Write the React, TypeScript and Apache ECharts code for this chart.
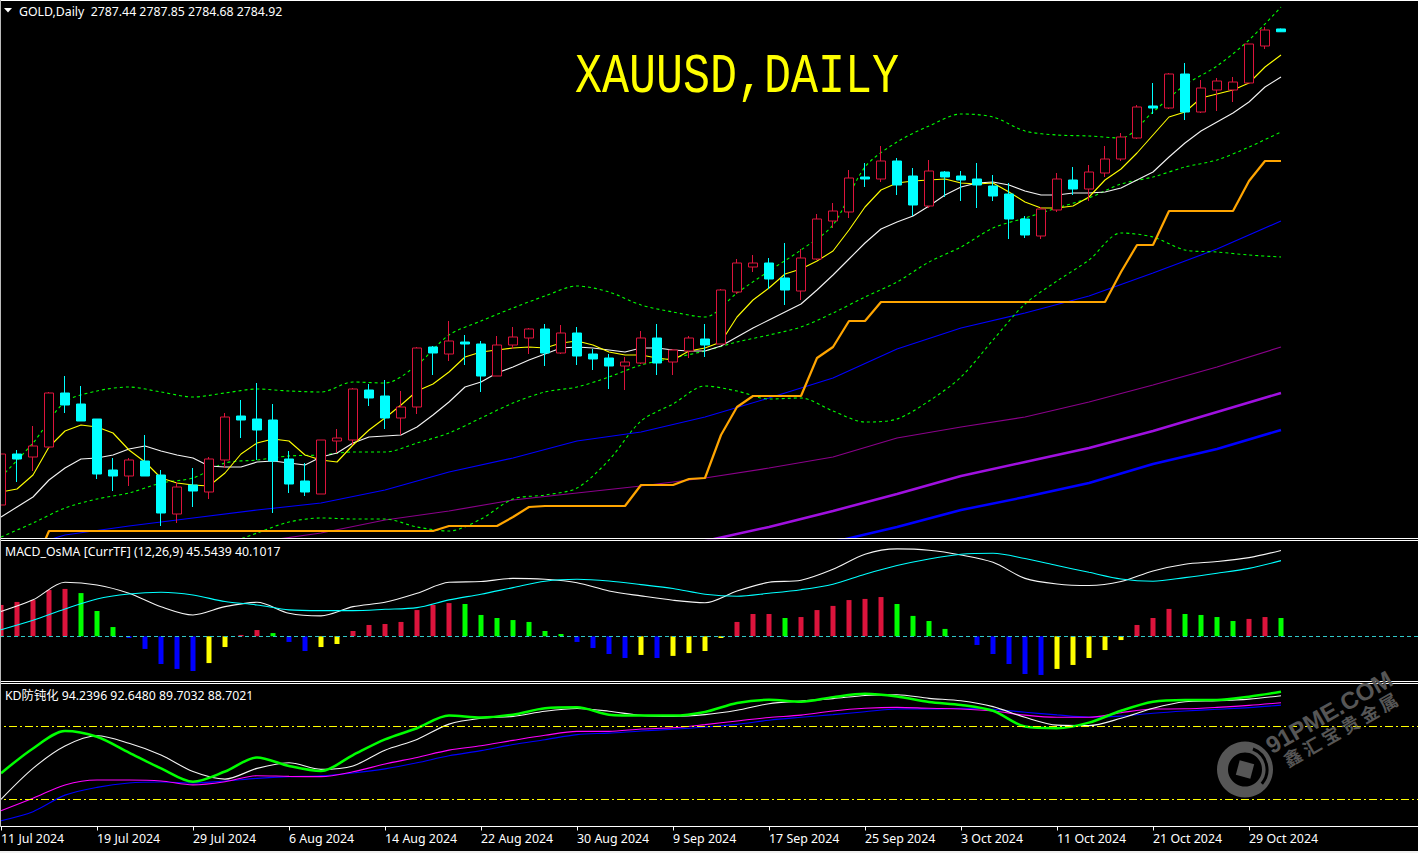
import React, { useEffect, useRef } from "react";
import * as echarts from "echarts";

const julDays = [11, 12, 15, 16, 17, 18, 19, 22, 23, 24, 25, 26, 29, 30, 31];
const augDays = [1, 2, 5, 6, 7, 8, 9, 12, 13, 14, 15, 16, 19, 20, 21, 22, 23, 26, 27, 28, 29, 30];
const sepDays = [2, 3, 4, 5, 6, 9, 10, 11, 12, 13, 16, 17, 18, 19, 20, 23, 24, 25, 26, 27, 30];
const octDays = [1, 2, 3, 4, 7, 8, 9, 10, 11, 14, 15, 16, 17, 18, 21, 22, 23, 24, 25, 28, 29, 30, 31];
const tradingDates = [
  ...julDays.map((d) => `${d} Jul 2024`),
  ...augDays.map((d) => `${d} Aug 2024`),
  ...sepDays.map((d) => `${d} Sep 2024`),
  ...octDays.map((d) => `${d} Oct 2024`),
];
const blankSlots = 9;

const opens = [2359.0,2404.9,2402.2,2411.2,2459.8,2449.9,2436.4,2390.5,2385.1,2398.6,2386.0,2350.9,2377.0,2370.7,2399.5,2439.1,2436.4,2435.5,2400.4,2380.6,2368.9,2416.6,2417.5,2462.5,2457.1,2437.3,2447.2,2501.2,2494.9,2505.7,2503.9,2475.1,2503.0,2509.3,2517.4,2495.8,2513.8,2494.9,2491.3,2484.1,2486.8,2509.3,2487.7,2497.6,2508.4,2503.9,2550.7,2573.2,2576.8,2563.3,2551.6,2580.4,2614.6,2622.7,2654.2,2652.4,2668.6,2655.1,2628.1,2658.7,2655.1,2652.4,2646.1,2638.9,2616.4,2601.1,2624.5,2651.5,2643.4,2657.8,2670.4,2689.3,2718.1,2716.3,2746.9,2712.7,2732.5,2732.5,2738.8,2772.1,2787.44];
const highs = [2414.8,2408.5,2430.1,2460.7,2475.1,2466.1,2436.4,2401.3,2401.3,2422.0,2390.5,2379.7,2392.3,2402.2,2441.8,2453.5,2468.8,2449.9,2407.6,2396.8,2417.5,2427.4,2464.3,2467.9,2471.5,2461.6,2501.2,2502.1,2524.6,2512.0,2506.6,2511.1,2519.2,2518.3,2521.9,2521.0,2519.2,2499.4,2494.9,2492.2,2515.6,2521.9,2499.4,2511.1,2521.9,2553.4,2580.4,2584.0,2581.3,2594.8,2589.4,2620.9,2630.8,2660.5,2666.8,2682.1,2671.3,2662.3,2669.5,2659.6,2659.6,2666.8,2656.0,2648.8,2619.1,2627.2,2657.8,2663.2,2665.0,2682.1,2693.8,2719.0,2738.8,2747.8,2756.8,2741.5,2743.3,2744.2,2773.9,2789.2,2787.85];
const lows = [2359.0,2379.7,2389.6,2410.3,2441.8,2434.6,2382.4,2371.6,2376.1,2385.1,2340.1,2342.8,2357.2,2364.4,2392.3,2419.3,2399.5,2351.8,2369.8,2367.1,2368.9,2405.8,2413.0,2448.1,2427.4,2422.0,2440.9,2476.0,2488.6,2485.0,2460.7,2475.1,2499.4,2494.9,2484.1,2494.9,2485.0,2480.5,2463.4,2462.5,2485.9,2476.0,2476.0,2491.3,2492.2,2503.9,2548.9,2568.7,2553.4,2539.0,2543.5,2579.5,2608.3,2617.3,2645.2,2649.7,2638.0,2619.1,2626.3,2636.2,2632.6,2626.3,2632.6,2598.4,2599.3,2598.4,2622.7,2638.0,2632.6,2654.2,2668.6,2688.4,2710.9,2715.4,2705.5,2711.8,2713.6,2721.7,2738.8,2769.4,2784.68];
const closes = [2404.9,2400.4,2412.1,2459.8,2449.0,2434.6,2386.9,2385.1,2399.5,2385.1,2351.8,2375.2,2371.6,2400.4,2438.2,2435.5,2426.5,2398.6,2377.9,2370.7,2417.5,2419.3,2463.4,2455.3,2437.3,2447.2,2500.3,2495.8,2506.6,2503.9,2475.1,2503.0,2510.2,2517.4,2495.8,2513.8,2493.1,2490.4,2484.1,2487.7,2509.3,2486.8,2498.5,2509.3,2503.0,2552.5,2576.8,2576.8,2562.4,2552.5,2581.3,2616.4,2623.6,2653.3,2652.4,2668.6,2647.0,2629.0,2659.6,2654.2,2651.5,2647.0,2637.1,2616.4,2602.0,2625.4,2652.4,2643.4,2658.7,2670.4,2690.2,2717.2,2716.3,2746.9,2712.7,2734.3,2740.6,2739.7,2773.9,2786.5,2784.92];

const fastAverage = [2370.7,2373.4,2386.0,2411.2,2425.6,2431.0,2429.2,2423.8,2408.5,2397.7,2383.3,2378.8,2377.0,2376.1,2387.8,2404.9,2414.8,2418.4,2416.6,2404.0,2399.5,2397.7,2413.0,2426.5,2437.3,2449.0,2461.6,2467.9,2478.7,2492.2,2496.7,2498.5,2500.3,2501.2,2500.3,2504.8,2506.6,2503.0,2496.7,2494.0,2494.0,2491.3,2489.5,2497.6,2500.3,2505.7,2528.2,2543.5,2554.3,2566.9,2571.4,2578.6,2587.6,2606.5,2627.2,2642.5,2648.8,2650.6,2651.5,2652.4,2648.8,2647.9,2648.8,2640.7,2631.7,2626.3,2626.3,2628.1,2636.2,2651.5,2661.4,2675.8,2692.0,2708.2,2712.7,2725.3,2728.9,2732.5,2738.8,2753.2,2764.0];
const midAverage = [2348.2,2357.2,2366.2,2381.5,2392.3,2400.4,2401.3,2404.0,2409.4,2412.1,2407.6,2404.0,2401.3,2394.1,2393.2,2393.2,2397.7,2398.6,2396.8,2395.0,2402.2,2405.8,2414.8,2420.2,2421.1,2422.0,2429.2,2440.0,2451.7,2465.2,2469.7,2477.8,2483.2,2489.5,2494.9,2500.3,2501.2,2500.3,2498.5,2496.7,2500.3,2500.3,2498.5,2497.6,2497.6,2502.1,2510.2,2518.3,2525.5,2532.7,2539.9,2552.5,2566.0,2580.4,2594.8,2607.4,2613.7,2619.1,2628.1,2638.0,2645.2,2648.8,2649.7,2647.0,2641.6,2638.0,2638.0,2639.8,2639.8,2640.7,2644.3,2651.5,2658.7,2672.2,2684.8,2695.6,2703.7,2711.8,2721.7,2735.2,2744.2];
// sampled every second bar
const bandUpper = [2384.2,2414.8,2451.7,2461.6,2465.2,2460.7,2456.2,2459.8,2463.4,2461.6,2460.7,2469.7,2468.8,2485.0,2512.0,2524.6,2536.3,2547.1,2556.1,2550.7,2539.0,2532.7,2528.2,2549.8,2569.6,2588.5,2611.0,2663.2,2685.7,2700.1,2710.9,2708.2,2695.6,2692.0,2691.1,2689.3,2712.7,2737.0,2754.1,2777.5,2807.2];
const bandInner = [2330.2,2342.8,2356.3,2364.4,2369.8,2378.8,2383.3,2396.8,2399.5,2403.1,2404.0,2406.7,2406.7,2414.8,2423.8,2437.3,2450.8,2460.7,2465.2,2474.2,2485.0,2491.3,2497.6,2505.7,2512.0,2519.2,2531.8,2546.2,2559.7,2577.7,2591.2,2608.3,2617.3,2626.3,2635.3,2647.9,2654.2,2663.2,2669.5,2681.2,2694.7];
// from bar 14, every second bar
const bandLower = [2323.0,2333.8,2343.7,2347.3,2346.4,2346.4,2339.2,2335.6,2346.4,2364.4,2368.0,2374.3,2399.5,2434.6,2449.9,2466.1,2461.6,2454.4,2455.3,2443.6,2433.7,2436.4,2452.6,2474.2,2507.5,2539.9,2560.6,2579.5,2603.8,2600.2,2588.5,2586.7,2584.0,2582.2];
const stopLine = [2302.3,2302.3,2302.3,2335.6,2335.6,2335.6,2335.6,2335.6,2335.6,2335.6,2335.6,2335.6,2335.6,2335.6,2335.6,2335.6,2335.6,2335.6,2335.6,2335.6,2335.6,2335.6,2335.6,2335.6,2335.6,2335.6,2335.6,2335.6,2340.1,2340.1,2340.1,2340.1,2348.2,2357.2,2358.1,2358.1,2358.1,2358.1,2358.1,2358.1,2377.0,2377.0,2377.0,2382.4,2383.3,2422.0,2447.2,2457.1,2457.1,2457.1,2457.1,2491.3,2501.2,2524.6,2524.6,2541.7,2541.7,2541.7,2541.7,2541.7,2541.7,2541.7,2541.7,2541.7,2541.7,2541.7,2541.7,2541.7,2541.7,2541.7,2568.7,2593.0,2593.0,2623.6,2623.6,2623.6,2623.6,2623.6,2650.6,2668.6,2668.6];
// every fourth bar
const slowAverage = [2314.9,2332.0,2340.1,2347.3,2354.5,2360.8,2372.5,2388.7,2401.3,2416.6,2424.7,2438.2,2455.3,2473.3,2499.4,2518.3,2531.8,2547.1,2567.8,2589.4,2614.6];
// from bar 16, every fourth bar
const slowerAverage = [2325.7,2333.8,2345.5,2353.6,2363.5,2369.8,2376.1,2383.3,2392.3,2402.2,2419.3,2429.2,2438.2,2451.7,2467.0,2483.2,2501.2];
// from bar 44, every fourth bar
const violetAverage = [2326.6,2339.2,2353.6,2368.9,2385.1,2397.7,2410.3,2425.6,2442.7,2459.8];
// from bar 52, every fourth bar
const blueAverage = [2325.7,2339.2,2354.5,2366.2,2378.8,2395.9,2409.4,2426.5];

const osmaValues = [16.6,18.2,19.2,24.5,25.1,22.9,13.4,4.9,-0.9,-6.7,-14.7,-17.3,-18.4,-14.2,-5.7,0.7,3.3,1.7,-3.0,-7.8,-5.7,-4.1,2.8,6.0,6.5,7.6,13.9,16.6,17.6,17.1,11.3,9.7,8.6,7.6,2.8,1.2,-3.0,-6.2,-9.4,-11.5,-9.9,-11.5,-10.4,-8.9,-7.8,-0.9,7.6,11.8,11.8,9.7,10.2,13.9,16.1,19.2,19.8,20.8,17.1,10.8,8.1,3.9,-0.2,-4.6,-9.4,-14.7,-20.0,-20.5,-17.3,-15.2,-11.5,-7.3,-2.0,6.0,9.7,14.5,11.8,11.3,10.2,8.1,9.2,10.2,9.7];
const osmaKinds = "RRRRR GGG BBBBB YY RR G BB YY RRRRRRR GGGGGGG BBBB Y B YYYY RRR G RRRRRR GGGG BBBBBB YYYYY RRR GGGG RR G".replace(/ /g, "");
const osmaPalette: Record<string, string> = { R: "#DC143C", G: "#00FF00", B: "#0000FF", Y: "#FFFF00" };
// every second bar
const macdLine = [13.1,19.3,28.6,27.2,22.8,15.7,11.3,15.7,18.0,12.2,10.8,15.7,18.0,22.8,28.6,29.0,30.7,30.2,28.4,24.0,21.4,19.1,17.8,24.0,28.6,29.7,35.5,43.5,46.3,45.6,43.1,39.2,30.7,27.7,26.9,29.0,34.6,38.2,39.6,41.7,45.5];
const signalLine = [3.5,8.5,14.5,19.8,22.4,23.3,21.9,18.4,16.6,14.0,13.6,13.6,14.3,15.2,19.3,22.3,25.8,29.2,30.2,29.3,27.4,25.3,22.3,21.2,22.8,24.7,27.6,32.9,37.5,41.0,43.5,44.0,41.2,37.5,33.9,30.4,29.2,31.1,33.4,36.0,40.1];
const macdZero = [0];

// every second bar
const kdGreen = [60.7,70.9,78.1,75.7,69.2,62.7,57.2,61.4,67.2,63.7,61.6,68.2,74.6,79.2,84.4,83.6,84.8,87.4,87.8,84.8,84.4,84.4,85.9,89.6,90.9,90.1,92.0,93.4,92.3,90.0,88.8,86.4,79.9,79.2,81.5,86.4,90.1,90.8,90.8,92.2,94.2];
const kdWhite = [50.0,62.7,71.9,76.1,73.0,68.2,61.4,58.3,62.7,65.0,62.3,63.7,70.2,74.6,80.9,83.3,84.1,86.2,87.3,86.2,84.5,84.1,84.8,86.6,89.3,90.4,91.4,92.7,93.0,91.5,90.5,88.1,83.7,80.5,80.3,83.3,87.4,90.1,90.5,91.2,92.6];
const kdMagenta = [45.3,50.4,55.9,57.9,57.9,57.5,55.9,57.2,59.7,59.4,59.3,61.3,64.5,67.2,70.2,72.0,74.2,76.3,77.9,77.9,78.9,79.4,80.7,82.2,83.6,84.6,86.3,87.4,87.8,87.4,87.1,86.3,84.6,83.7,83.7,85.6,87.1,87.2,87.8,88.6,89.7];
const kdBlue = [41.2,44.9,51.7,54.9,56.7,57.1,56.7,57.5,58.6,59.3,59.6,60.8,62.5,65.0,67.9,70.0,72.5,74.5,76.6,77.2,78.1,78.8,79.7,80.8,82.5,83.7,84.8,86.0,87.1,87.1,87.4,87.0,85.8,84.7,83.8,84.2,85.4,86.3,87.0,87.7,88.7];
const kdLevels = [80, 50];

const mainHeader = "GOLD,Daily  2787.44 2787.85 2784.68 2784.92";
const macdHeader = "MACD_OsMA [CurrTF] (12,26,9) 45.5439 40.1017";
const kdHeader = "KD防钝化 94.2396 92.6480 89.7032 88.7021";
const chartTitle = "XAUUSD, DAILY";
const watermarkLatin = "91PME.COM";
const watermarkCjk = "鑫 汇 宝 贵 金 属";

const uiFont = '"Noto Sans", "Noto Sans CJK SC", sans-serif';

function pairs(values: number[], step: number, start = 0) {
  return values.map((v, k) => [start + k * step, v]);
}

function buildOption() {
  const categories = [...tradingDates, ...Array(blankSlots).fill("")];
  const xBase = { type: "category", data: categories, boundaryGap: true };
  const line = (name: string, data: any, color: string, width: number, extra: any = {}, smooth: number | boolean = false) => ({
    name,
    type: "line",
    data,
    showSymbol: false,
    symbol: "none",
    connectNulls: true,
    silent: true,
    smooth,
    z: 3,
    lineStyle: { color, width, ...extra },
    xAxisIndex: 0,
    yAxisIndex: 0,
  });
  const sep = (y: number, color = "#ffffff") => ({
    type: "line",
    z: 50,
    shape: { x1: 0, y1: y, x2: 1418, y2: y },
    style: { stroke: color, lineWidth: 1 },
  });
  const label = (text: string, x: number, y: number) => ({
    type: "text",
    x,
    y,
    z: 60,
    style: { text, fill: "#ffffff", fontFamily: uiFont, fontSize: 12.3, textVerticalAlign: "middle", textAlign: "left" },
  });
  const wm = "#565656";
  const curve = 0.3;

  return {
    animation: false,
    backgroundColor: "#000000",
    grid: [
      { left: -7, width: 1440, top: 1, height: 537, outerBoundsMode: "none" },
      { left: -7, width: 1440, top: 541, height: 140, outerBoundsMode: "none" },
      { left: -7, width: 1440, top: 684, height: 142.5, outerBoundsMode: "none" },
    ],
    xAxis: [
      { ...xBase, gridIndex: 0, show: false },
      { ...xBase, gridIndex: 1, show: false },
      {
        ...xBase,
        gridIndex: 2,
        axisLine: { show: true, lineStyle: { color: "#ffffff", width: 1 } },
        axisTick: {
          show: true,
          length: 4,
          alignWithLabel: true,
          interval: (i: number) => i % 6 === 0 && i < tradingDates.length,
          lineStyle: { color: "#ffffff" },
        },
        axisLabel: {
          show: true,
          interval: (i: number) => i % 6 === 0 && i < tradingDates.length,
          color: "#ffffff",
          fontFamily: uiFont,
          fontSize: 12.4,
          align: "left",
          margin: 6,
          hideOverlap: false,
        },
        splitLine: { show: false },
      },
    ],
    yAxis: [
      { type: "value", gridIndex: 0, min: 2329.3, max: 2812.6, show: false, splitLine: { show: false } },
      { type: "value", gridIndex: 1, min: -23.7, max: 50.5, show: false, splitLine: { show: false } },
      { type: "value", gridIndex: 2, min: 38.8, max: 97.4, show: false, splitLine: { show: false } },
    ],
    series: [
      line("Slower", pairs(slowerAverage, 4, 16), "#8A008A", 1.2),
      line("Violet", pairs(violetAverage, 4, 44), "#A010E0", 2.5),
      line("Blue", pairs(blueAverage, 4, 52), "#0000FF", 2.5),
      line("Slow", pairs(slowAverage, 4), "#0000FF", 1.1),
      line("Band lower", pairs(bandLower, 2, 14), "#00FF00", 1.1, { type: [3, 3] }, curve),
      line("Band inner", pairs(bandInner, 2), "#00FF00", 1.1, { type: [3, 3] }, curve),
      line("Band upper", pairs(bandUpper, 2), "#00FF00", 1.1, { type: [3, 3] }, curve),
      line("Stop", stopLine, "#FFA500", 2.2),
      line("Mid average", midAverage, "#F4F4F4", 1.1),
      line("Fast average", fastAverage, "#FFFF00", 1.1),
      {
        name: "GOLD",
        type: "candlestick",
        z: 5,
        silent: true,
        barWidth: 10,
        data: tradingDates.map((_, i) => [opens[i], closes[i], lows[i], highs[i]]),
        itemStyle: {
          color: "#000000",
          color0: "#00FFFF",
          borderColor: "#DC143C",
          borderColor0: "#00FFFF",
          borderColorDoji: "#DC143C",
          borderWidth: 1,
        },
      },
      {
        name: "OsMA",
        type: "bar",
        xAxisIndex: 1,
        yAxisIndex: 1,
        barWidth: 5,
        silent: true,
        data: osmaValues.map((value, i) => ({ value, itemStyle: { color: osmaPalette[osmaKinds[i]] } })),
        markLine: {
          silent: true,
          symbol: "none",
          label: { show: false },
          lineStyle: { color: "#30C8C8", width: 1, type: [4, 3] },
          data: macdZero.map((yAxis) => ({ yAxis })),
        },
      },
      { ...line("MACD", pairs(macdLine, 2), "#F4F4F4", 1.1, {}, curve), xAxisIndex: 1, yAxisIndex: 1 },
      { ...line("Signal", pairs(signalLine, 2), "#00FFFF", 1.1, {}, curve), xAxisIndex: 1, yAxisIndex: 1 },
      {
        ...line("KD blue", pairs(kdBlue, 2), "#0000FF", 1.1, {}, curve),
        xAxisIndex: 2,
        yAxisIndex: 2,
        markLine: {
          silent: true,
          symbol: "none",
          label: { show: false },
          lineStyle: { color: "#FFFF00", width: 1, type: [8, 3, 2, 3] },
          data: kdLevels.map((yAxis) => ({ yAxis })),
        },
      },
      { ...line("KD magenta", pairs(kdMagenta, 2), "#FF00FF", 1.1, {}, curve), xAxisIndex: 2, yAxisIndex: 2 },
      { ...line("KD white", pairs(kdWhite, 2), "#F4F4F4", 1.1, {}, curve), xAxisIndex: 2, yAxisIndex: 2 },
      { ...line("KD green", pairs(kdGreen, 2), "#00FF00", 2.5, {}, curve), xAxisIndex: 2, yAxisIndex: 2 },
    ],
    graphic: [
      sep(0.5),
      sep(538.5),
      sep(540.5),
      sep(681.5),
      sep(683.5),
      { type: "line", z: 50, shape: { x1: 0.5, y1: 0, x2: 0.5, y2: 827 }, style: { stroke: "#bbbbbb", lineWidth: 1 } },
      { type: "rect", z: 50, shape: { x: 0, y: 851, width: 1418, height: 2 }, style: { fill: "#f0f0f0" } },
      { type: "polygon", z: 60, shape: { points: [[4, 8], [12, 8], [8, 12.5]] }, style: { fill: "#ffffff" } },
      label(mainHeader, 19, 11),
      label(macdHeader, 5, 551),
      label(kdHeader, 5, 695),
      {
        type: "text",
        z: 60,
        x: 575,
        y: 77,
        scaleX: 0.818,
        scaleY: 1,
        style: {
          text: chartTitle,
          fill: "#FFFF00",
          fontFamily: '"Liberation Mono", monospace',
          fontSize: 55,
          textVerticalAlign: "middle",
          textAlign: "left",
        },
      },
      { type: "ring", z: 70, shape: { cx: 1245, cy: 769.5, r: 28, r0: 17 }, style: { fill: wm } },
      {
        type: "arc",
        z: 71,
        shape: { cx: 1245, cy: 769.5, r: 22, startAngle: -1.2, endAngle: 0.7 },
        style: { stroke: "#000000", lineWidth: 3, fill: "none" },
      },
      {
        type: "rect",
        z: 70,
        x: 1245,
        y: 769.5,
        rotation: -0.26,
        shape: { x: -7.5, y: -7.5, width: 15, height: 15 },
        style: { fill: wm },
      },
      {
        type: "text",
        z: 70,
        x: 1329,
        y: 712,
        rotation: 0.52,
        style: { text: watermarkLatin, fill: wm, fontFamily: '"Liberation Sans", sans-serif', fontSize: 24, fontWeight: "bold", textAlign: "center", textVerticalAlign: "middle" },
      },
      {
        type: "text",
        z: 70,
        x: 1340,
        y: 729,
        rotation: 0.52,
        style: { text: watermarkCjk, fill: wm, fontFamily: '"Noto Sans CJK SC", sans-serif', fontSize: 18, fontWeight: "bold", textAlign: "center", textVerticalAlign: "middle" },
      },
    ],
  };
}

export default function App() {
  const ref = useRef<HTMLDivElement | null>(null);
  useEffect(() => {
    document.body.style.margin = "0";
    document.body.style.background = "#000";
    const chart = echarts.init(ref.current as HTMLDivElement, undefined, { renderer: "svg" });
    chart.setOption(buildOption() as any);
    // the title's typeface sets its word gap to almost nothing
    (ref.current as HTMLDivElement).querySelectorAll("text").forEach((t) => {
      if (t.textContent === chartTitle) t.style.wordSpacing = "-33px";
    });
    return () => chart.dispose();
  }, []);
  return <div ref={ref} style={{ width: 1418, height: 853, position: "absolute", left: 0, top: 0 }} />;
}
